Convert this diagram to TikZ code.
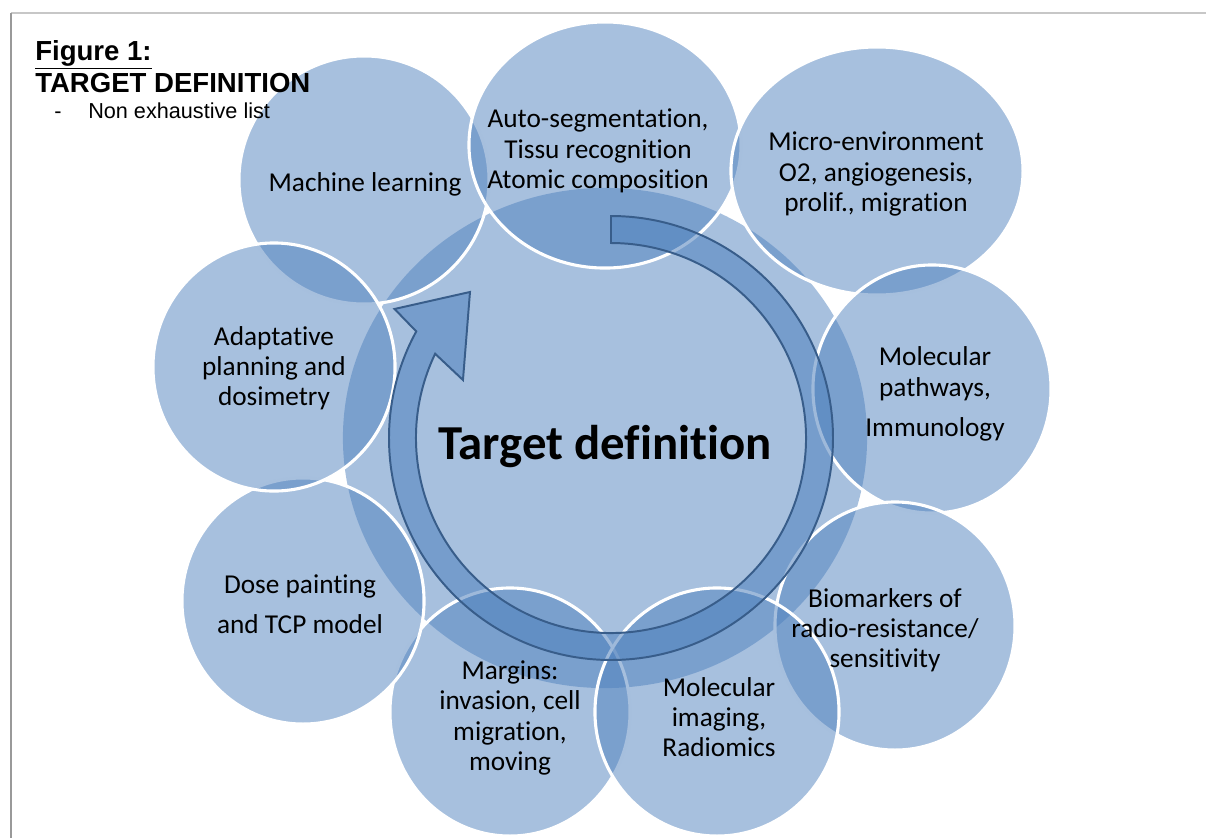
\documentclass[tikz,border=0pt]{standalone}
\usepackage{fontspec}
\setmainfont{Carlito}[Ligatures=NoCommon, Contextuals=NoAlternate]
\newfontfamily\arialfont{Liberation Sans}
\usetikzlibrary{shapes.geometric}

\definecolor{bubbleblue}{RGB}{79,129,189}
\definecolor{ringline}{RGB}{56,93,138}

\begin{document}
\begin{tikzpicture}[x=0.025cm, y=-0.025cm,
  bubble/.style={ellipse, inner sep=0pt, fill=bubbleblue, fill opacity=.5,
    draw=white, draw opacity=1, line width=2.2pt},
  radii/.style 2 args={minimum width=#1*0.05cm, minimum height=#2*0.05cm},
  label text/.style={align=center, font=\fontsize{19.4}{21.5}\selectfont},
  head text/.style={anchor=base west, inner sep=0pt},
  cycle arrow/.style={fill=bubbleblue, fill opacity=.55, draw=ringline,
    draw opacity=1, line width=1.4pt, line join=miter}]

  \useasboundingbox (0,0) rectangle (1206,838);

  % page frame
  \draw[black!22, line width=.8pt] (11,13) -- (1206,13);
  \draw[black!40, line width=1.4pt] (11,13) -- (11,838);

  % centre
  \node[bubble, draw=none, radii={262}{250}] (core) at (605,438) {};

  % topics around the centre
  \node[bubble, radii={125}{124}] (learning) at (364,180) {};
  \node[bubble, radii={136}{123}] (segment) at (605,145) {};
  \node[bubble, radii={146}{124}] (micro) at (877,171) {};
  \node[bubble, radii={119}{124}] (pathways) at (932,389) {};
  \node[bubble, radii={120}{124}] (markers) at (895,626) {};
  \node[bubble, radii={120}{124}] (margins) at (510,712) {};
  \node[bubble, radii={122}{124}] (imaging) at (717,712) {};
  \node[bubble, radii={121}{123}] (dose) at (303,601) {};
  \node[bubble, radii={121}{124}] (adapt) at (274,367) {};

  % the cycle arrow
  \begin{scope}[shift={(611,438)}, yscale=-1]
    \filldraw[cycle arrow] (90:222) arc[start angle=90, end angle=-208.7, radius=222]
      -- (-210.8:252) -- (-226:203) -- (-201.4:159) -- (-205.6:195)
      arc[start angle=-205.6, end angle=90, radius=195] -- cycle;
  \end{scope}

  % labels
  \node[label text] (learning-t) at (365,184) {Machine learning};
  \node[label text] (segment-t) at (598,151) {Auto-segmentation,\\Tissu recognition\\Atomic composition};
  \node[label text] (micro-t) at (876,174) {Micro-environment\\O2, angiogenesis,\\prolif., migration};
  \node[label text] (pathways-t) at (935,394) {Molecular\\pathways,\\[7pt]Immunology};
  \node[label text] (markers-t) at (885,630) {Biomarkers of\\radio-resistance/\\sensitivity};
  \node[label text] (imaging-t) at (719,717) {Molecular\\imaging,\\Radiomics};
  \node[label text] (margins-t) at (510,718) {Margins:\\invasion, cell\\migration,\\moving};
  \node[label text] (dose-t) at (300,604) {Dose painting\\[7pt]and TCP model};
  \node[label text] (adapt-t) at (274,368) {Adaptative\\planning and\\dosimetry};
  \node[font=\fontsize{34.7}{40}\selectfont\bfseries] (core-t) at (605,447) {Target definition};

  % title
  \node[head text, font=\arialfont\bfseries\fontsize{19.6}{22}\selectfont] (fig) at (35,60) {\underline{Figure 1:}};
  \node[head text, font=\arialfont\bfseries\fontsize{19.6}{22}\selectfont] (heading) at (35,92) {TARGET DEFINITION};
  \node[head text, font=\arialfont\fontsize{15.4}{18}\selectfont] (dash) at (54,118) {-};
  \node[head text, font=\arialfont\fontsize{15.4}{18}\selectfont] (note) at (88,118) {Non exhaustive list};
\end{tikzpicture}
\end{document}
